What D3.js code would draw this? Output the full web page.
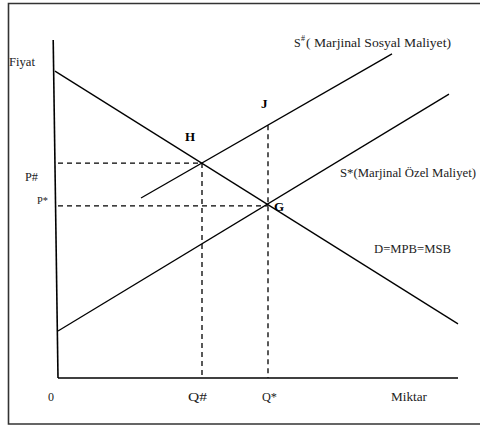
<!DOCTYPE html>
<html><head><meta charset="utf-8">
<script src="https://cdn.jsdelivr.net/npm/d3@7"></script>
<style>html,body{margin:0;padding:0;background:#fff;}svg{display:block;}</style>
</head><body>
<script>
// Data in abstract units (quantity q, price p), each 0..100
const demand = [{q:-0.75,p:90.8},{q:100,p:16.0}];
const supplySocial = [{q:20.75,p:53.25},{q:83.5,p:95.9}];
const supplyPrivate = [{q:0,p:13.9},{q:97.75,p:84.0}];
const yAxisPts = [{q:-1.2,p:100},{q:0,p:0}];
const xAxisPts = [{q:0,p:0},{q:100,p:0}];
const pointH = {q:36,p:63.6};
const pointG = {q:52.5,p:50.9};
const pointJ = {q:52.5,p:74.8};
const pointLabels = ["H","J","G"];
const axisLabels = ["Fiyat","Miktar","0"];
const tickLabelsX = ["Q#","Q*"];
const tickLabelsY = ["P#","P*"];
const curveLabels = ["( Marjinal  Sosyal  Maliyet)","S*(Marjinal Özel Maliyet)","D=MPB=MSB"];

const W=480,H=428;
const svg=d3.select("body").append("svg").attr("width",W).attr("height",H);
const x=d3.scaleLinear().domain([0,100]).range([58,458]);
const y=d3.scaleLinear().domain([0,100]).range([378,40]);
const line=d3.line().x(d=>x(d.q)).y(d=>y(d.p));

// frame
svg.append("path").attr("d","M482,3.5 L8.5,3.5 L8.5,424 L482,424")
  .attr("fill","none").attr("stroke","#333").attr("stroke-width",1.6);

// axes
svg.append("path").attr("d",line(yAxisPts)).attr("stroke","#000").attr("stroke-width",1.6).attr("fill","none");
svg.append("path").attr("d",line(xAxisPts)).attr("stroke","#000").attr("stroke-width",1.6).attr("fill","none");

// dashed guides
const dash=[
  [{q:0,p:pointH.p},pointH],[pointH,{q:pointH.q,p:0}],
  [{q:0,p:pointG.p},pointG],[pointJ,{q:pointJ.q,p:0}]
];
dash.forEach(d=>svg.append("path").attr("d",line(d)).attr("stroke","#000")
  .attr("stroke-width",1.3).attr("stroke-dasharray","5,4").attr("fill","none"));

// curves
[demand,supplySocial,supplyPrivate].forEach(d=>svg.append("path").attr("d",line(d))
  .attr("stroke","#000").attr("stroke-width",1.3).attr("fill","none"));

const serif="'Liberation Serif','Times New Roman',serif";
function txt(s,px,py,opt={}){
  const t=svg.append("text").attr("x",px).attr("y",py).attr("font-family",serif)
    .attr("font-size",opt.size||11).attr("fill",opt.bold?"#000":"#222").text(s);
  if(opt.bold) t.attr("font-weight","bold");
  if(opt.len) t.attr("textLength",opt.len).attr("lengthAdjust","spacingAndGlyphs");
  return t;
}
// axis labels
txt(axisLabels[0],9,66,{size:12,len:26});
txt(axisLabels[1],391,401,{size:12,len:36});
txt(axisLabels[2],48,401,{size:12});
txt(tickLabelsX[0],x(pointH.q)-14,401,{size:12,len:19});
txt(tickLabelsX[1],x(pointG.q)-6,401,{size:12,len:15});
txt(tickLabelsY[0],25,181,{size:11.5,len:13});
txt(tickLabelsY[1],37,204,{size:11,len:11});
// point labels
txt(pointLabels[0],x(pointH.q)-17,y(pointH.p)-22,{size:13,bold:true});
txt(pointLabels[1],x(pointJ.q)-7,y(pointJ.p)-17,{size:13,bold:true});
txt(pointLabels[2],x(pointG.q)+6,y(pointG.p)+5,{size:13,bold:true});
// curve labels
txt("S",294,47,{size:12});
txt("#",301,41,{size:8});
txt(curveLabels[0],306,47,{size:12,len:145});
txt(curveLabels[1],340,177,{size:12,len:136});
txt(curveLabels[2],374,253,{size:12,len:77});
</script>
</body></html>
